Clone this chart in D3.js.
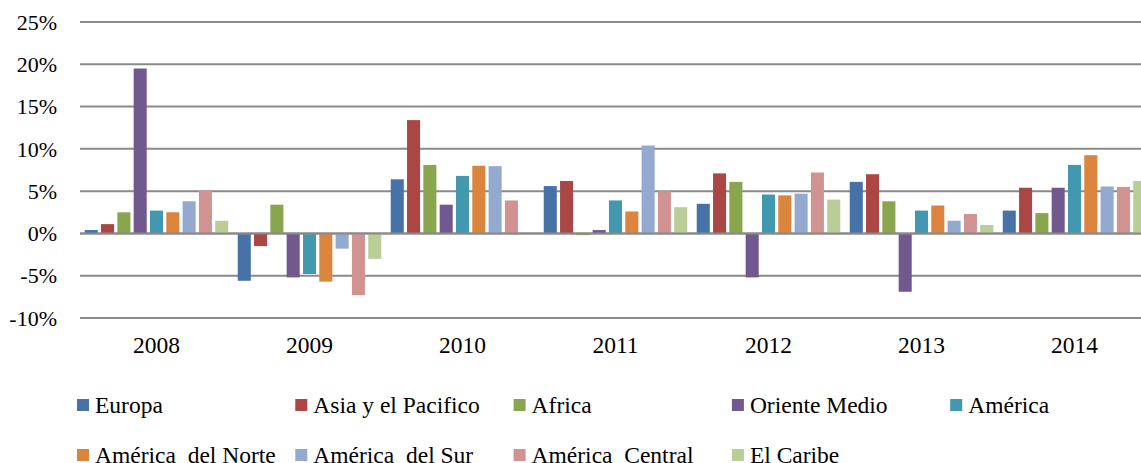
<!DOCTYPE html>
<html>
<head>
<meta charset="utf-8">
<script src="https://cdn.jsdelivr.net/npm/d3@7"></script>
<style>
  body { margin: 0; background: #fff; }
  text { font-family: "Liberation Serif", "Times New Roman", serif; fill: #000; white-space: pre; }
</style>
</head>
<body>
<div id="chart"></div>
<script>
var years = ["2008", "2009", "2010", "2011", "2012", "2013", "2014"];
var regions = ["Europa", "Asia y el Pacifico", "Africa", "Oriente Medio", "América",
  "América  del Norte", "América  del Sur", "América  Central", "El Caribe"];
var yTicks = [-10, -5, 0, 5, 10, 15, 20, 25];

// growth by region, % per year
var europa   = [0.4, -5.6, 6.4, 5.6, 3.5, 6.1, 2.7];
var asia     = [1.1, -1.5, 13.4, 6.2, 7.1, 7.0, 5.4];
var africa   = [2.5, 3.4, 8.1, -0.2, 6.1, 3.8, 2.4];
var oriente  = [19.5, -5.2, 3.4, 0.4, -5.2, -6.9, 5.4];
var america  = [2.7, -4.8, 6.8, 3.9, 4.6, 2.7, 8.1];
var norte    = [2.5, -5.7, 8.0, 2.6, 4.5, 3.3, 9.25];
var sur      = [3.8, -1.8, 7.95, 10.4, 4.7, 1.5, 5.55];
var central  = [5.1, -7.3, 3.9, 5.0, 7.2, 2.3, 5.5];
var caribe   = [1.5, -3.0, 0, 3.1, 4.0, 1.0, 6.2];

var seriesValues = [europa, asia, africa, oriente, america, norte, sur, central, caribe];
var colors = ["#4672a8", "#aa4643", "#89a54e", "#71588f", "#4198af",
  "#db843d", "#93a9cf", "#d19392", "#b9cd96"];

var width = 1141, height = 463;
var left = 80, bandW = 153;

var svg = d3.select("#chart").append("svg")
  .attr("width", width)
  .attr("height", height);

var x0 = d3.scaleBand()
  .domain(years)
  .range([left, left + bandW * years.length]);

var x1 = d3.scaleBand()
  .domain(regions)
  .range([0, x0.bandwidth()])
  .paddingInner(0.2)
  .paddingOuter(0.29);

var y = d3.scaleLinear()
  .domain([-10, 25])
  .range([318, 22]);

var color = d3.scaleOrdinal().domain(regions).range(colors);

// gridlines
svg.append("g")
  .selectAll("line")
  .data(yTicks)
  .enter().append("line")
    .attr("x1", left)
    .attr("x2", width)
    .attr("y1", function(d) { return y(d); })
    .attr("y2", function(d) { return y(d); })
    .style("stroke", "#8a8a8a")
    .style("stroke-width", 2);

// y labels
svg.append("g")
  .selectAll("text")
  .data(yTicks)
  .enter().append("text")
    .attr("x", 57)
    .attr("y", function(d) { return y(d); })
    .attr("dy", "0.35em")
    .attr("text-anchor", "end")
    .style("font-size", "22px")
    .text(function(d) { return d + "%"; });

// bars
var groups = svg.append("g")
  .selectAll("g")
  .data(years)
  .enter().append("g")
    .attr("transform", function(d) { return "translate(" + x0(d) + ",0)"; });

groups.selectAll("rect")
  .data(function(d, i) {
    return regions.map(function(r, k) { return { region: r, value: seriesValues[k][i] }; });
  })
  .enter().append("rect")
    .attr("x", function(d) { return x1(d.region); })
    .attr("width", x1.bandwidth())
    .attr("y", function(d) { return y(Math.max(0, d.value)); })
    .attr("height", function(d) { return Math.abs(y(d.value) - y(0)); })
    .style("fill", function(d) { return color(d.region); });

// zero line over bars
svg.append("line")
  .attr("x1", left).attr("x2", width)
  .attr("y1", y(0)).attr("y2", y(0))
  .style("stroke", "#8a8a8a")
  .style("stroke-width", 2);

// year labels
svg.append("g")
  .selectAll("text")
  .data(years)
  .enter().append("text")
    .attr("x", function(d) { return x0(d) + x0.bandwidth() / 2; })
    .attr("y", 353)
    .attr("text-anchor", "middle")
    .style("font-size", "23.5px")
    .text(function(d) { return d; });

// legend
var colX = 77, colStep = 218.3;
var legend = svg.append("g")
  .selectAll("g")
  .data(regions)
  .enter().append("g")
    .attr("transform", function(d, i) {
      var row = i < 5 ? 0 : 1;
      var col = row === 0 ? i : i - 5;
      return "translate(" + (colX + col * colStep) + "," + (405 + row * 50) + ")";
    });

legend.append("rect")
  .attr("x", 0).attr("y", -6)
  .attr("width", 12).attr("height", 12)
  .style("fill", function(d) { return color(d); });

legend.append("text")
  .attr("x", 18)
  .attr("y", 7.5)
  .style("font-size", "23.5px")
  .text(function(d) { return d; });
</script>
</body>
</html>
